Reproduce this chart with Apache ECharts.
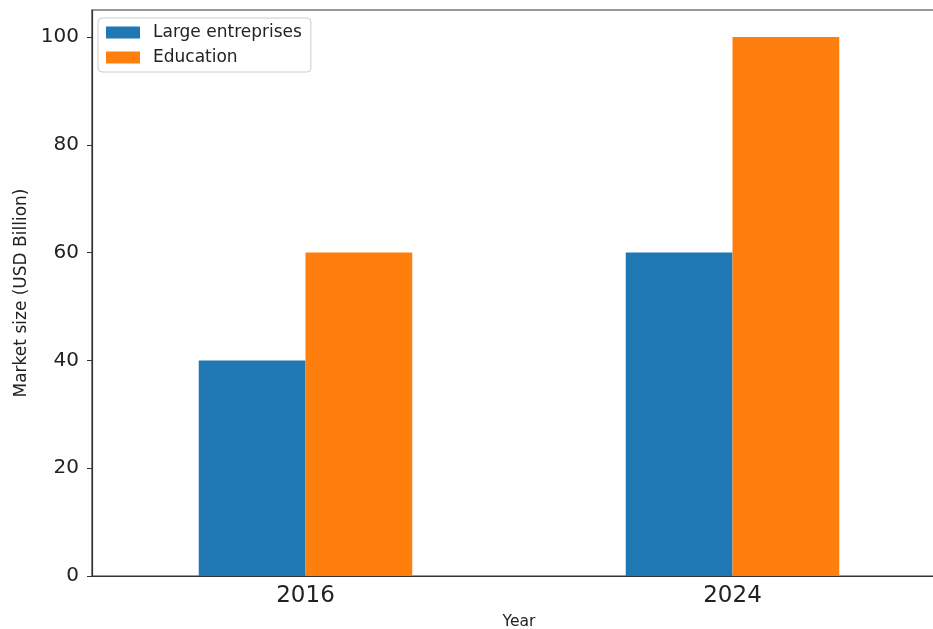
<!DOCTYPE html>
<html>
<head>
<meta charset="utf-8">
<script src="https://cdn.jsdelivr.net/npm/echarts@6/dist/echarts.min.js"></script>
<style>
html,body{margin:0;padding:0;background:#fff;}
#chart{width:933px;height:629px;}
</style>
</head>
<body>
<div id="chart"></div>
<script>
const years = ['2016', '2024'];
const largeEnterprises = [40, 60];
const education = [60, 100];
const yTicks = [0, 20, 40, 60, 80, 100];

const chart = echarts.init(document.getElementById('chart'));
const FONT = 'DejaVu Sans';
chart.setOption({
  animation: false,
  backgroundColor: '#fff',
  textStyle: { fontFamily: FONT },
  grid: { left: 92, width: 854, top: 10, height: 566, outerBoundsMode: 'none', show: true, borderColor: '#333', borderWidth: 1.2, containLabel: false },
  legend: {
    orient: 'vertical', left: 98, top: 18,
    padding: [6, 9, 6, 8],
    borderColor: '#ccc', borderWidth: 1, borderRadius: 4, backgroundColor: 'rgba(255,255,255,0.8)',
    itemWidth: 34, itemHeight: 12, itemGap: 8,
    textStyle: { fontFamily: FONT, fontSize: 17, color: '#222', padding: [0, 0, 0, 8], lineHeight: 14 },
    data: [{ name: 'Large entreprises', icon: 'rect' }, { name: 'Education', icon: 'rect' }]
  },
  xAxis: {
    type: 'category', data: years,
    name: 'Year', nameLocation: 'middle', nameGap: 38,
    nameTextStyle: { fontFamily: FONT, fontSize: 15.5, color: '#222' },
    axisLine: { lineStyle: { color: '#333', width: 1.2 } },
    axisTick: { alignWithLabel: true, length: 5, lineStyle: { color: '#333' } },
    axisLabel: { fontFamily: FONT, fontSize: 23, color: '#222', margin: 9 }
  },
  yAxis: {
    type: 'value', min: 0, max: 105, interval: 20,
    name: 'Market size (USD Billion)', nameLocation: 'middle', nameGap: 62,
    nameTextStyle: { fontFamily: FONT, fontSize: 17, color: '#222' },
    axisLine: { show: true, lineStyle: { color: '#333', width: 1.2 } },
    axisTick: { show: true, length: 5, lineStyle: { color: '#333' }, customValues: yTicks },
    axisLabel: { fontFamily: FONT, fontSize: 20, color: '#222', margin: 13, customValues: yTicks },
    splitLine: { show: false }
  },
  series: [
    { name: 'Large entreprises', type: 'bar', data: largeEnterprises, barWidth: '25%', barGap: '0%', itemStyle: { color: '#1f77b4' } },
    { name: 'Education', type: 'bar', data: education, barWidth: '25%', barGap: '0%', itemStyle: { color: '#ff7f0e' } }
  ]
});
</script>
</body>
</html>
